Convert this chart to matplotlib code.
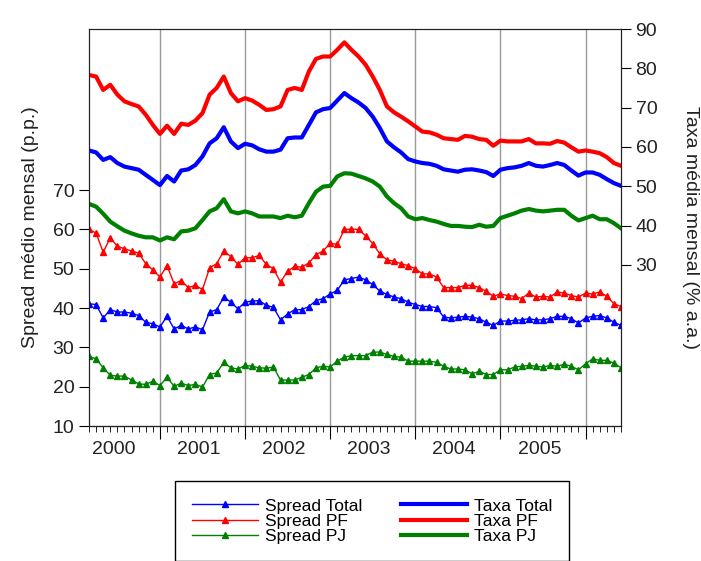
import numpy as np
import pandas as pd
from matplotlib import pyplot as plt

# monthly series, Mar 2000 .. Jun 2006
months = pd.date_range('2000-03-01', periods=76, freq='MS')

spread_total = [41.1, 40.9, 37.5, 39.6, 39.0, 39.0, 38.7, 38.1, 36.4, 36.0, 35.2, 37.9, 34.7, 35.6, 34.7, 35.2,
                34.5, 39.0, 39.6, 42.8, 41.5, 39.8, 41.5, 41.8, 41.9, 40.7,
                40.2, 37.0, 38.5, 39.6, 39.6, 40.4, 41.9, 42.4, 43.6, 44.5, 47.2, 47.5, 47.9, 47.2, 46.0, 44.3,
                43.5, 42.8, 42.4, 41.5, 40.9, 40.4, 40.4, 40.1, 37.7, 37.5,
                37.7, 37.9, 37.7, 37.3, 36.4, 35.6, 36.7, 36.7, 36.9, 37.0, 37.3, 37.0, 37.0, 37.3, 37.9, 37.9,
                37.3, 36.2, 37.5, 37.9, 38.1, 37.5, 36.4, 35.6]
spread_pf = [60.0, 59.1, 54.2, 57.9, 55.7, 55.1, 54.5, 54.0, 51.3, 49.7, 47.9, 50.8, 46.2, 47.0, 45.2, 45.8,
             44.7, 50.2, 51.3, 54.5, 53.1, 51.1, 52.8, 52.8, 53.4, 51.1,
             50.0, 46.6, 49.4, 50.6, 50.4, 51.5, 53.6, 54.5, 56.5, 56.2, 60.0, 60.1, 60.0, 58.4, 56.4, 53.8,
             52.3, 51.9, 51.3, 50.8, 50.0, 48.7, 48.7, 47.9, 45.2, 45.2,
             45.2, 45.8, 45.8, 45.2, 44.3, 43.0, 43.6, 43.2, 43.0, 42.4, 43.8, 42.8, 43.0, 42.8, 44.1, 43.8,
             43.2, 42.8, 43.8, 43.6, 44.1, 43.0, 41.1, 40.4]
spread_pj = [27.7, 27.1, 24.8, 22.9, 22.7, 22.7, 21.7, 20.7, 20.6, 21.4, 20.3, 22.4, 20.1, 20.9, 20.3, 20.6,
             19.9, 23.1, 23.5, 26.2, 24.8, 24.5, 25.4, 25.2, 24.8, 24.7,
             25.0, 21.7, 21.7, 21.7, 22.4, 23.1, 24.8, 25.2, 25.0, 26.5, 27.5, 27.9, 27.9, 27.9, 28.8, 28.8,
             28.2, 27.7, 27.5, 26.5, 26.5, 26.5, 26.5, 26.2, 25.2, 24.5,
             24.5, 24.3, 23.3, 23.9, 23.1, 23.1, 24.3, 24.3, 25.0, 25.2, 25.4, 25.2, 25.0, 25.4, 25.2, 25.7,
             25.2, 24.3, 25.8, 27.1, 26.7, 26.7, 26.0, 24.8]

taxa_total = [59.1, 58.6, 56.7, 57.4, 55.9, 55.0, 54.6, 54.2, 52.9, 51.6, 50.3, 52.6, 51.2, 54.0, 54.3, 55.4,
              57.6, 60.9, 62.2, 65.0, 61.4, 59.7, 60.8, 60.4, 59.4, 58.8,
              58.8, 59.3, 62.2, 62.4, 62.4, 65.6, 68.8, 69.6, 69.9, 71.8, 73.7, 72.4, 71.3, 69.9, 67.7, 64.8,
              61.4, 59.9, 58.6, 56.9, 56.3, 55.9, 55.7, 55.2, 54.3, 54.0,
              53.7, 54.2, 54.3, 54.0, 53.6, 52.6, 54.2, 54.6, 54.8, 55.2, 55.9, 55.2, 55.0, 55.4, 55.9, 55.4,
              54.0, 52.7, 53.5, 53.5, 52.9, 51.8, 50.8, 50.1]
taxa_pf = [78.3, 77.9, 74.5, 75.8, 73.3, 71.6, 70.9, 70.3, 68.2, 65.6, 63.3, 65.4, 63.3, 65.9, 65.6, 66.7,
           68.6, 73.3, 75.0, 77.9, 73.7, 71.6, 72.4, 71.8, 70.7, 69.4,
           69.6, 70.3, 74.5, 75.0, 74.5, 79.2, 82.4, 83.0, 83.0, 84.7, 86.6, 84.7, 83.0, 80.9, 77.9, 74.5,
           70.3, 68.8, 67.7, 66.5, 65.2, 63.9, 63.7, 63.1, 62.2, 62.0,
           61.8, 62.8, 62.6, 62.0, 61.8, 60.3, 61.6, 61.4, 61.4, 61.4, 62.0, 60.9, 60.9, 60.8, 61.5, 61.1,
           59.9, 58.8, 59.1, 58.8, 58.4, 57.4, 55.9, 55.2]
taxa_pj = [45.5, 44.8, 43.0, 41.0, 39.8, 38.7, 38.0, 37.4, 37.0, 37.0, 36.2, 37.0, 36.5, 38.5, 38.7, 39.3,
           41.4, 43.6, 44.4, 46.7, 43.6, 43.1, 43.6, 43.1, 42.3, 42.3,
           42.3, 41.9, 42.5, 42.1, 42.5, 45.7, 48.6, 49.9, 50.1, 52.5, 53.3, 53.2, 52.6, 52.0, 51.2, 49.9,
           47.4, 45.7, 44.4, 42.3, 41.6, 41.9, 41.4, 41.0, 40.4, 39.9,
           39.9, 39.7, 39.6, 40.2, 39.7, 39.9, 41.9, 42.5, 43.1, 43.8, 44.2, 43.8, 43.6, 43.8, 44.0, 44.0,
           42.5, 41.3, 41.9, 42.5, 41.6, 41.6, 40.6, 39.3]

year_labels = ['2000', '2001', '2002', '2003', '2004', '2005']

plt.rcParams['font.family'] = ['Liberation Sans', 'DejaVu Sans']
txt = '#222222'

blue, red, green = '#0000ff', '#ff0000', '#008000'

fig = plt.figure(figsize=(7.01, 5.61), dpi=100)
ax = fig.add_axes([89 / 701, 1 - 426 / 561, 532 / 701, 397 / 561])
ax2 = ax.twinx()

x = np.arange(len(months))
jan = x[months.month == 1]
# year label sits in the middle of each calendar year
first = months[0].month - 1
year_mid = [12 * i - first + 5.5 for i in range(len(year_labels))]

mk = dict(marker='^', markersize=4.5, lw=1)
l1, = ax.plot(x, spread_total, color=blue, label='Spread Total', **mk)
l2, = ax.plot(x, spread_pf, color=red, label='Spread PF', **mk)
l3, = ax.plot(x, spread_pj, color=green, label='Spread PJ', **mk)
l4, = ax2.plot(x, taxa_total, color=blue, lw=3, label='Taxa Total')
l5, = ax2.plot(x, taxa_pf, color=red, lw=3, label='Taxa PF')
l6, = ax2.plot(x, taxa_pj, color=green, lw=3, label='Taxa PJ')

for j in jan:
    ax.axvline(j, color='#999999', lw=1, zorder=0)

ax.set_xlim(0, len(x) - 1)
ax.set_ylim(10, 111)
ax2.set_ylim(-11, 90)
ax.set_yticks(np.arange(10, 71, 10))
ax2.set_yticks(np.arange(30, 91, 10))

ax.set_xticks(year_mid, year_labels)
ax.set_xticks(x, minor=True)
ax.tick_params(axis='x', which='major', length=0, pad=11, labelsize=14, labelcolor=txt)
ax.tick_params(axis='x', which='minor', length=4, direction='out')
sec = ax.secondary_xaxis('bottom')
sec.set_xticks(jan)
sec.tick_params(length=9, labelbottom=False)

ax.tick_params(axis='y', length=7, labelsize=14, labelcolor=txt)
ax2.tick_params(axis='y', length=7, labelsize=14, labelcolor=txt)

ax.set_ylabel('Spread médio mensal (p.p.)', fontsize=14, color=txt, labelpad=10)
ax2.set_ylabel('Taxa média mensal (% a.a.)', fontsize=14, color=txt, rotation=-90, labelpad=30)

for a in (ax, ax2):
    for s in a.spines.values():
        s.set_color('#222222')

fig.legend(handles=[l1, l2, l3, l4, l5, l6], ncol=2, loc='upper center',
           bbox_to_anchor=(372 / 701, 1 - 481 / 561), fontsize=12.5, frameon=True, fancybox=False,
           edgecolor='black', framealpha=1, handlelength=3.8, labelspacing=0.0,
           columnspacing=2.2, handletextpad=0.4, borderpad=1.0, borderaxespad=0)

fig.savefig('out.png', dpi=100)
